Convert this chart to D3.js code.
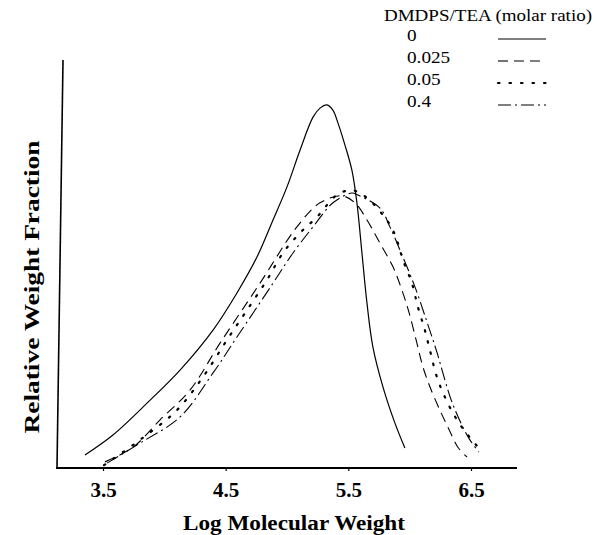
<!DOCTYPE html>
<html>
<head>
<meta charset="utf-8">
<script src="https://cdn.jsdelivr.net/npm/d3@7"></script>
<style>
  body { margin: 0; background: #fff; }
  text { font-family: "Liberation Serif", "Times New Roman", serif; fill: #000; }
</style>
</head>
<body>
<svg id="chart" width="597" height="535"></svg>
<script>
// data: [log MW, relative weight fraction]
const ratio0 = [
  [3.353,0.032],[3.581,0.081],[3.859,0.159],[4.128,0.240],[4.397,0.338],[4.592,0.429],
  [4.755,0.517],[4.886,0.608],[5.000,0.689],[5.106,0.779],[5.212,0.860],[5.269,0.882],
  [5.326,0.890],[5.374,0.877],[5.415,0.846],[5.472,0.792],[5.529,0.730],[5.570,0.650],
  [5.611,0.527],[5.652,0.404],[5.700,0.297],[5.782,0.199],[5.880,0.110],[5.961,0.049]
]
const ratio025 = [
  [3.516,0.015],[3.745,0.051],[3.965,0.118],[4.209,0.191],[4.454,0.306],[4.780,0.453],
  [5.081,0.591],[5.269,0.650],[5.448,0.667],[5.554,0.650],[5.652,0.608],[5.758,0.551],
  [5.864,0.493],[5.937,0.436],[5.994,0.382],[6.059,0.306],[6.108,0.248],[6.165,0.199],
  [6.246,0.142],[6.312,0.100],[6.393,0.051],[6.467,0.027]
]
const ratio05 = [
  [3.508,0.007],[3.802,0.069],[4.103,0.142],[4.315,0.223],[4.511,0.314],[4.674,0.387],
  [4.837,0.461],[4.967,0.527],[5.106,0.576],[5.244,0.615],[5.407,0.669],[5.529,0.681],
  [5.652,0.662],[5.782,0.620],[5.855,0.588],[5.904,0.551],[5.945,0.510],[6.018,0.453],
  [6.067,0.395],[6.124,0.338],[6.165,0.289],[6.222,0.223],[6.287,0.174],[6.352,0.135],
  [6.426,0.100],[6.507,0.069],[6.597,0.037]
]
const ratio4 = [
  [3.533,0.012],[3.802,0.061],[4.128,0.125],[4.397,0.233],[4.592,0.321],[4.886,0.453],
  [5.049,0.527],[5.212,0.591],[5.375,0.650],[5.529,0.674],[5.578,0.669],[5.758,0.637],
  [5.839,0.591],[5.921,0.534],[6.043,0.444],[6.141,0.358],[6.222,0.284],[6.287,0.216],
  [6.344,0.162],[6.426,0.105],[6.491,0.069],[6.564,0.039]
]
const seriesNames = ["0", "0.025", "0.05", "0.4"]
const xTicks = [3.5, 4.5, 5.5, 6.5]

const series = [ratio0, ratio025, ratio05, ratio4]
const dashes = [null, "10,6", "1.5,10", "13,4,2,4"]
const widths = [1.2, 1.1, 2.2, 1.1]

const svg = d3.select("#chart")

const x = d3.scaleLinear().domain([3.5, 6.5]).range([103, 471])
const y = d3.scaleLinear().domain([0, 1]).range([468, 60])

// axes (left one leans a little, as in the scan)
svg.append("line")
    .attr("x1", 63).attr("y1", 60).attr("x2", 57).attr("y2", 468)
    .attr("stroke", "#000").attr("stroke-width", 1.6)

const xAxis = svg.append("g")
    .attr("transform", "translate(0,468)")
    .call(d3.axisBottom(x).tickValues(xTicks).tickSize(3).tickSizeOuter(0).tickFormat(d3.format(".1f")))
xAxis.select(".domain").remove()
xAxis.selectAll(".tick line").attr("stroke-width", 1.2)
xAxis.selectAll(".tick text")
    .attr("font-family", "Liberation Serif")
    .attr("font-size", 21).attr("font-weight", "bold")
    .attr("y", 29).attr("dy", null)
svg.append("line")
    .attr("x1", 56).attr("y1", 468).attr("x2", 517).attr("y2", 468)
    .attr("stroke", "#000").attr("stroke-width", 2)

svg.append("text")
    .attr("x", 294).attr("y", 530)
    .attr("text-anchor", "middle")
    .attr("font-size", 20).attr("font-weight", "bold")
    .attr("textLength", 222).attr("lengthAdjust", "spacingAndGlyphs")
    .text("Log Molecular Weight")

svg.append("text")
    .attr("transform", "translate(39,287) rotate(-90)")
    .attr("text-anchor", "middle")
    .attr("font-size", 21).attr("font-weight", "bold")
    .attr("textLength", 293).attr("lengthAdjust", "spacingAndGlyphs")
    .text("Relative Weight Fraction")

// curves
const line = d3.line()
    .x(d => x(d[0]))
    .y(d => y(d[1]))
    .curve(d3.curveCatmullRom.alpha(0.5))

series.forEach((s, i) => {
  svg.append("path")
      .datum(s)
      .attr("d", line)
      .attr("fill", "none")
      .attr("stroke", "#000")
      .attr("stroke-width", widths[i])
      .attr("stroke-linecap", i == 2 ? "round" : "butt")
      .attr("stroke-dasharray", dashes[i])
})

// legend
svg.append("text")
    .attr("x", 384).attr("y", 21)
    .attr("font-size", 17)
    .attr("textLength", 208).attr("lengthAdjust", "spacingAndGlyphs")
    .text("DMDPS/TEA (molar ratio)")

const leg = svg.append("g")
seriesNames.forEach((n, i) => {
  const by = 41 + i * 22
  leg.append("text")
      .attr("transform", `translate(407,${by}) scale(1.2,1)`)
      .attr("font-size", 16)
      .text(n)
  leg.append("line")
      .attr("x1", 498).attr("x2", 546)
      .attr("y1", by - 2).attr("y2", by - 2)
      .attr("stroke", "#000")
      .attr("stroke-width", widths[i])
      .attr("stroke-linecap", i == 2 ? "round" : "butt")
      .attr("stroke-dasharray", dashes[i])
})
</script>
</body>
</html>
